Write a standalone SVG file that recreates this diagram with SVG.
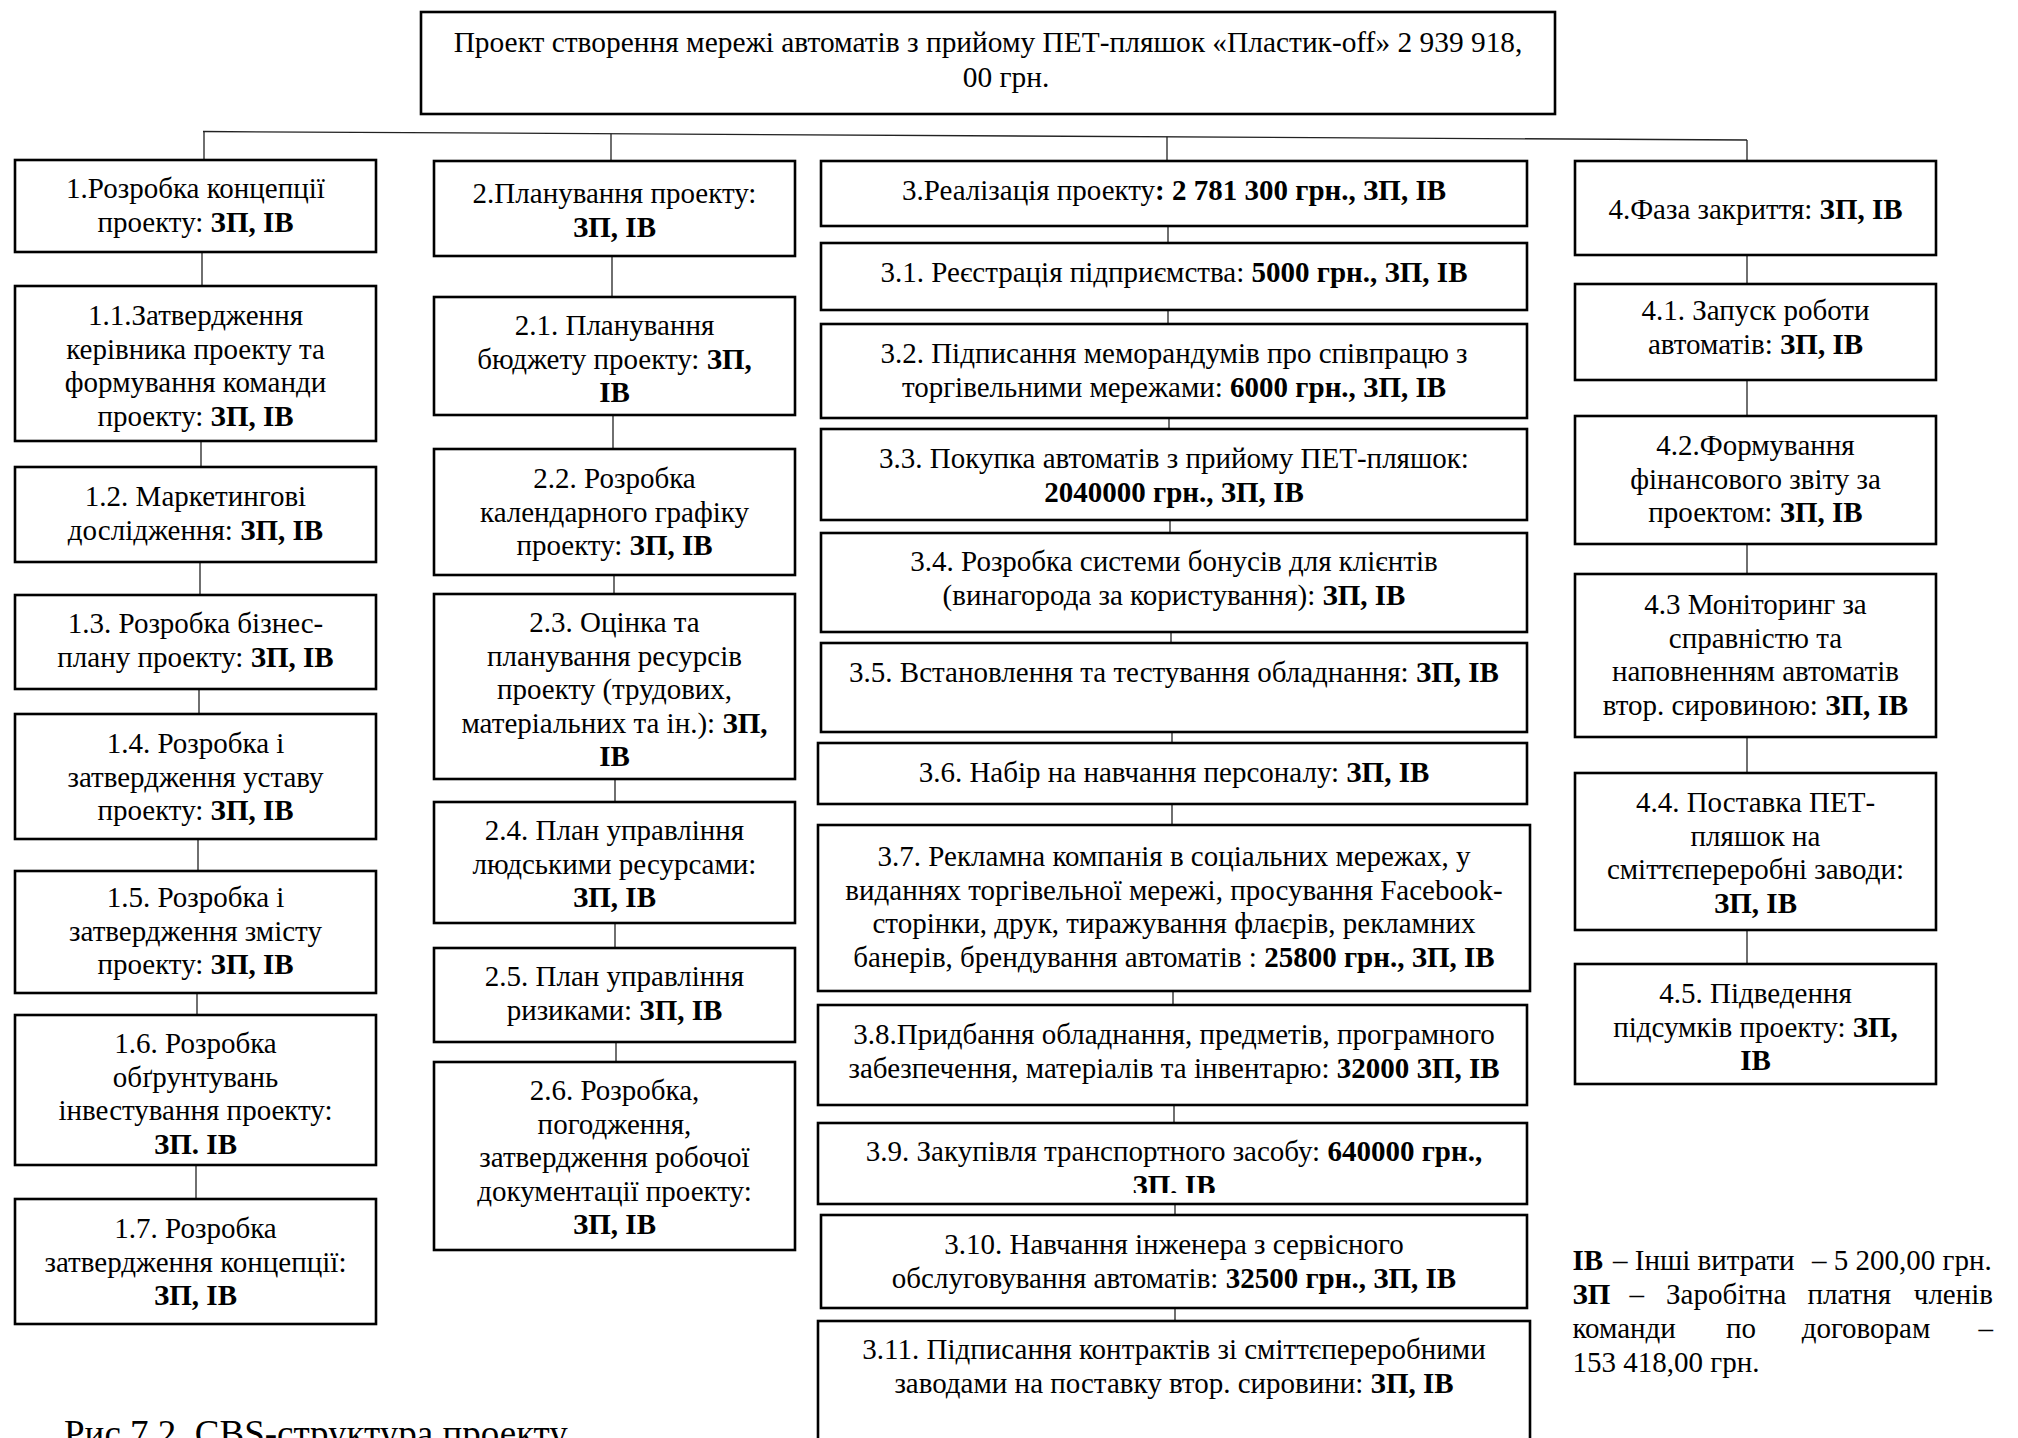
<svg xmlns="http://www.w3.org/2000/svg" width="2018" height="1438" viewBox="0 0 2018 1438">
<style>
.box{fill:#fff;stroke:#000;stroke-width:2.6}
.t{font-family:"Liberation Serif","Times New Roman",serif;font-size:29px;fill:#000;text-anchor:middle}
.l{font-family:"Liberation Serif","Times New Roman",serif;font-size:29px;fill:#000}
.b{font-weight:bold}
#connectors line{stroke:#222;stroke-width:1.3}
</style>
<defs>
<clipPath id="clip39"><rect x="815" y="1120" width="718" height="73"/></clipPath>
</defs>
<rect width="2018" height="1438" fill="#fff"/>
<g id="connectors">
<line x1="203" y1="131.5" x2="1747" y2="140"/>
<line x1="204" y1="131.5" x2="204" y2="160"/>
<line x1="611" y1="133.7" x2="611" y2="161"/>
<line x1="1167" y1="136.8" x2="1167" y2="161"/>
<line x1="1747" y1="140" x2="1747" y2="162"/>
<line x1="202" y1="252" x2="202" y2="286"/>
<line x1="201" y1="441" x2="201" y2="467"/>
<line x1="200" y1="562" x2="200" y2="595"/>
<line x1="199" y1="689" x2="199" y2="714"/>
<line x1="198" y1="839" x2="198" y2="871"/>
<line x1="197" y1="993" x2="197" y2="1015"/>
<line x1="196" y1="1165" x2="196" y2="1199"/>
<line x1="612" y1="256" x2="612" y2="297"/>
<line x1="613" y1="415" x2="613" y2="449"/>
<line x1="614" y1="575" x2="614" y2="594"/>
<line x1="615" y1="779" x2="615" y2="802"/>
<line x1="615" y1="923" x2="615" y2="948"/>
<line x1="616" y1="1042" x2="616" y2="1062"/>
<line x1="1168" y1="226" x2="1168" y2="243"/>
<line x1="1168" y1="310" x2="1168" y2="324"/>
<line x1="1169" y1="418" x2="1169" y2="429"/>
<line x1="1170" y1="520" x2="1170" y2="533"/>
<line x1="1171" y1="632" x2="1171" y2="643"/>
<line x1="1172" y1="732" x2="1172" y2="743"/>
<line x1="1172" y1="804" x2="1172" y2="825"/>
<line x1="1173" y1="991" x2="1173" y2="1005"/>
<line x1="1174" y1="1105" x2="1174" y2="1123"/>
<line x1="1175" y1="1204" x2="1175" y2="1215"/>
<line x1="1175" y1="1308" x2="1175" y2="1321"/>
<line x1="1747" y1="255" x2="1747" y2="284"/>
<line x1="1747" y1="380" x2="1747" y2="416"/>
<line x1="1747" y1="544" x2="1747" y2="574"/>
<line x1="1747" y1="737" x2="1747" y2="773"/>
<line x1="1747" y1="930" x2="1747" y2="964"/>
</g>
<g id="root">
<rect class="box" x="421" y="12" width="1134" height="102"/>
<text class="t" style="font-size:29.4px"><tspan x="988" y="52">Проект створення мережі автоматів з прийому ПЕТ-пляшок «Пластик-off» 2 939 918,</tspan><tspan x="1006" y="87">00 грн.</tspan></text>
</g>
<g id="n1">
<rect class="box" x="15" y="160" width="361" height="92"/>
<text class="t"><tspan x="195.5" y="198">1.Розробка концепції</tspan><tspan x="195.5" y="231.6">проекту: <tspan class="b">ЗП, ІВ</tspan></tspan></text>
</g>
<g id="n1_1">
<rect class="box" x="15" y="286" width="361" height="155"/>
<text class="t"><tspan x="195.5" y="325">1.1.Затвердження</tspan><tspan x="195.5" y="358.6">керівника проекту та</tspan><tspan x="195.5" y="392.2">формування команди</tspan><tspan x="195.5" y="425.8">проекту: <tspan class="b">ЗП, ІВ</tspan></tspan></text>
</g>
<g id="n1_2">
<rect class="box" x="15" y="467" width="361" height="95"/>
<text class="t"><tspan x="195.5" y="506">1.2. Маркетингові</tspan><tspan x="195.5" y="539.6">дослідження: <tspan class="b">ЗП, ІВ</tspan></tspan></text>
</g>
<g id="n1_3">
<rect class="box" x="15" y="595" width="361" height="94"/>
<text class="t"><tspan x="195.5" y="633">1.3. Розробка бізнес-</tspan><tspan x="195.5" y="666.6">плану проекту: <tspan class="b">ЗП, ІВ</tspan></tspan></text>
</g>
<g id="n1_4">
<rect class="box" x="15" y="714" width="361" height="125"/>
<text class="t"><tspan x="195.5" y="753">1.4. Розробка і</tspan><tspan x="195.5" y="786.6">затвердження уставу</tspan><tspan x="195.5" y="820.2">проекту: <tspan class="b">ЗП, ІВ</tspan></tspan></text>
</g>
<g id="n1_5">
<rect class="box" x="15" y="871" width="361" height="122"/>
<text class="t"><tspan x="195.5" y="907">1.5. Розробка і</tspan><tspan x="195.5" y="940.6">затвердження змісту</tspan><tspan x="195.5" y="974.2">проекту: <tspan class="b">ЗП, ІВ</tspan></tspan></text>
</g>
<g id="n1_6">
<rect class="box" x="15" y="1015" width="361" height="150"/>
<text class="t"><tspan x="195.5" y="1053">1.6. Розробка</tspan><tspan x="195.5" y="1086.6">обґрунтувань</tspan><tspan x="195.5" y="1120.2">інвестування проекту:</tspan><tspan x="195.5" y="1153.8" class="b">ЗП. ІВ</tspan></text>
</g>
<g id="n1_7">
<rect class="box" x="15" y="1199" width="361" height="125"/>
<text class="t"><tspan x="195.5" y="1238">1.7. Розробка</tspan><tspan x="195.5" y="1271.6">затвердження концепції:</tspan><tspan x="195.5" y="1305.2" class="b">ЗП, ІВ</tspan></text>
</g>
<g id="n2">
<rect class="box" x="434" y="161" width="361" height="95"/>
<text class="t"><tspan x="614.5" y="203">2.Планування проекту:</tspan><tspan x="614.5" y="236.6" class="b">ЗП, ІВ</tspan></text>
</g>
<g id="n2_1">
<rect class="box" x="434" y="297" width="361" height="118"/>
<text class="t"><tspan x="614.5" y="335">2.1. Планування</tspan><tspan x="614.5" y="368.6">бюджету проекту: <tspan class="b">ЗП,</tspan></tspan><tspan x="614.5" y="402.2" class="b">ІВ</tspan></text>
</g>
<g id="n2_2">
<rect class="box" x="434" y="449" width="361" height="126"/>
<text class="t"><tspan x="614.5" y="488">2.2. Розробка</tspan><tspan x="614.5" y="521.6">календарного графіку</tspan><tspan x="614.5" y="555.2">проекту: <tspan class="b">ЗП, ІВ</tspan></tspan></text>
</g>
<g id="n2_3">
<rect class="box" x="434" y="594" width="361" height="185"/>
<text class="t"><tspan x="614.5" y="632">2.3. Оцінка та</tspan><tspan x="614.5" y="665.6">планування ресурсів</tspan><tspan x="614.5" y="699.2">проекту (трудових,</tspan><tspan x="614.5" y="732.8">матеріальних та ін.): <tspan class="b">ЗП,</tspan></tspan><tspan x="614.5" y="766.4" class="b">ІВ</tspan></text>
</g>
<g id="n2_4">
<rect class="box" x="434" y="802" width="361" height="121"/>
<text class="t"><tspan x="614.5" y="840">2.4. План управління</tspan><tspan x="614.5" y="873.6">людськими ресурсами:</tspan><tspan x="614.5" y="907.2" class="b">ЗП, ІВ</tspan></text>
</g>
<g id="n2_5">
<rect class="box" x="434" y="948" width="361" height="94"/>
<text class="t"><tspan x="614.5" y="986">2.5. План управління</tspan><tspan x="614.5" y="1019.6">ризиками: <tspan class="b">ЗП, ІВ</tspan></tspan></text>
</g>
<g id="n2_6">
<rect class="box" x="434" y="1062" width="361" height="188"/>
<text class="t"><tspan x="614.5" y="1100">2.6. Розробка,</tspan><tspan x="614.5" y="1133.6">погодження,</tspan><tspan x="614.5" y="1167.2">затвердження робочої</tspan><tspan x="614.5" y="1200.8">документації проекту:</tspan><tspan x="614.5" y="1234.4" class="b">ЗП, ІВ</tspan></text>
</g>
<g id="n3">
<rect class="box" x="821" y="161" width="706" height="65"/>
<text class="t"><tspan x="1174" y="200">3.Реалізація проекту<tspan class="b">: 2 781 300 грн., ЗП, ІВ</tspan></tspan></text>
</g>
<g id="n3_1">
<rect class="box" x="821" y="243" width="706" height="67"/>
<text class="t"><tspan x="1174" y="282">3.1. Реєстрація підприємства: <tspan class="b">5000 грн., ЗП, ІВ</tspan></tspan></text>
</g>
<g id="n3_2">
<rect class="box" x="821" y="324" width="706" height="94"/>
<text class="t"><tspan x="1174" y="363">3.2. Підписання меморандумів про співпрацю з</tspan><tspan x="1174" y="396.6">торгівельними мережами: <tspan class="b">6000 грн., ЗП, ІВ</tspan></tspan></text>
</g>
<g id="n3_3">
<rect class="box" x="821" y="429" width="706" height="91"/>
<text class="t"><tspan x="1174" y="468">3.3. Покупка автоматів з прийому ПЕТ-пляшок:</tspan><tspan x="1174" y="501.6" class="b">2040000 грн., ЗП, ІВ</tspan></text>
</g>
<g id="n3_4">
<rect class="box" x="821" y="533" width="706" height="99"/>
<text class="t"><tspan x="1174" y="571">3.4. Розробка системи бонусів для клієнтів</tspan><tspan x="1174" y="604.6">(винагорода за користування): <tspan class="b">ЗП, ІВ</tspan></tspan></text>
</g>
<g id="n3_5">
<rect class="box" x="821" y="643" width="706" height="89"/>
<text class="t"><tspan x="1174" y="682">3.5. Встановлення та тестування обладнання: <tspan class="b">ЗП, ІВ</tspan></tspan></text>
</g>
<g id="n3_6">
<rect class="box" x="818" y="743" width="709" height="61"/>
<text class="t"><tspan x="1174" y="782">3.6. Набір на навчання персоналу: <tspan class="b">ЗП, ІВ</tspan></tspan></text>
</g>
<g id="n3_7">
<rect class="box" x="818" y="825" width="712" height="166"/>
<text class="t"><tspan x="1174" y="866">3.7. Рекламна компанія в соціальних мережах, у</tspan><tspan x="1174" y="899.6">виданнях торгівельної мережі, просування Facebook-</tspan><tspan x="1174" y="933.2">сторінки, друк, тиражування флаєрів, рекламних</tspan><tspan x="1174" y="966.8">банерів, брендування автоматів : <tspan class="b">25800 грн., ЗП, ІВ</tspan></tspan></text>
</g>
<g id="n3_8">
<rect class="box" x="818" y="1005" width="709" height="100"/>
<text class="t"><tspan x="1174" y="1044">3.8.Придбання обладнання, предметів, програмного</tspan><tspan x="1174" y="1077.6">забезпечення, матеріалів та інвентарю: <tspan class="b">32000 ЗП, ІВ</tspan></tspan></text>
</g>
<g id="n3_9">
<rect class="box" x="818" y="1123" width="709" height="81"/>
<text class="t" clip-path="url(#clip39)"><tspan x="1174" y="1161">3.9. Закупівля транспортного засобу: <tspan class="b">640000 грн.,</tspan></tspan><tspan x="1174" y="1195" class="b">ЗП, ІВ</tspan></text>
</g>
<g id="n3_10">
<rect class="box" x="821" y="1215" width="706" height="93"/>
<text class="t"><tspan x="1174" y="1254">3.10. Навчання інженера з сервісного</tspan><tspan x="1174" y="1287.6">обслуговування автоматів: <tspan class="b">32500 грн., ЗП, ІВ</tspan></tspan></text>
</g>
<g id="n3_11">
<rect class="box" x="818" y="1321" width="712" height="140"/>
<text class="t"><tspan x="1174" y="1359">3.11. Підписання контрактів зі сміттєпереробними</tspan><tspan x="1174" y="1392.6">заводами на поставку втор. сировини: <tspan class="b">ЗП, ІВ</tspan></tspan></text>
</g>
<g id="n4">
<rect class="box" x="1575" y="161" width="361" height="94"/>
<text class="t"><tspan x="1755.5" y="219">4.Фаза закриття: <tspan class="b">ЗП, ІВ</tspan></tspan></text>
</g>
<g id="n4_1">
<rect class="box" x="1575" y="284" width="361" height="96"/>
<text class="t"><tspan x="1755.5" y="320">4.1. Запуск роботи</tspan><tspan x="1755.5" y="353.6">автоматів: <tspan class="b">ЗП, ІВ</tspan></tspan></text>
</g>
<g id="n4_2">
<rect class="box" x="1575" y="416" width="361" height="128"/>
<text class="t"><tspan x="1755.5" y="455">4.2.Формування</tspan><tspan x="1755.5" y="488.6">фінансового звіту за</tspan><tspan x="1755.5" y="522.2">проектом: <tspan class="b">ЗП, ІВ</tspan></tspan></text>
</g>
<g id="n4_3">
<rect class="box" x="1575" y="574" width="361" height="163"/>
<text class="t"><tspan x="1755.5" y="614">4.3 Моніторинг за</tspan><tspan x="1755.5" y="647.6">справністю та</tspan><tspan x="1755.5" y="681.2">наповненням автоматів</tspan><tspan x="1755.5" y="714.8">втор. сировиною: <tspan class="b">ЗП, ІВ</tspan></tspan></text>
</g>
<g id="n4_4">
<rect class="box" x="1575" y="773" width="361" height="157"/>
<text class="t"><tspan x="1755.5" y="812">4.4. Поставка ПЕТ-</tspan><tspan x="1755.5" y="845.6">пляшок на</tspan><tspan x="1755.5" y="879.2">сміттєпереробні заводи:</tspan><tspan x="1755.5" y="912.8" class="b">ЗП, ІВ</tspan></text>
</g>
<g id="n4_5">
<rect class="box" x="1575" y="964" width="361" height="120"/>
<text class="t"><tspan x="1755.5" y="1003">4.5. Підведення</tspan><tspan x="1755.5" y="1036.6">підсумків проекту: <tspan class="b">ЗП,</tspan></tspan><tspan x="1755.5" y="1070.2" class="b">ІВ</tspan></text>
</g>
<g id="legend">
<text class="l"><tspan x="1572.5" y="1270" class="b">ІВ</tspan><tspan x="1613" y="1270">– Інші витрати</tspan><tspan x="1812" y="1270">– 5 200,00 грн.</tspan></text>
<text class="l"><tspan x="1572.5" y="1304" class="b">ЗП</tspan><tspan x="1629.6" y="1304">–</tspan><tspan x="1666" y="1304">Заробітна</tspan><tspan x="1807.4" y="1304">платня</tspan><tspan x="1993" y="1304" text-anchor="end">членів</tspan></text>
<text class="l"><tspan x="1572.5" y="1338">команди</tspan><tspan x="1726" y="1338">по</tspan><tspan x="1801.7" y="1338">договорам</tspan><tspan x="1993" y="1338" text-anchor="end">–</tspan></text>
<text class="l"><tspan x="1572.5" y="1372">153 418,00 грн.</tspan></text>
</g>
<text class="l" x="64" y="1446" style="font-size:37px">Рис 7.2. CBS-структура проекту</text>
</svg>
